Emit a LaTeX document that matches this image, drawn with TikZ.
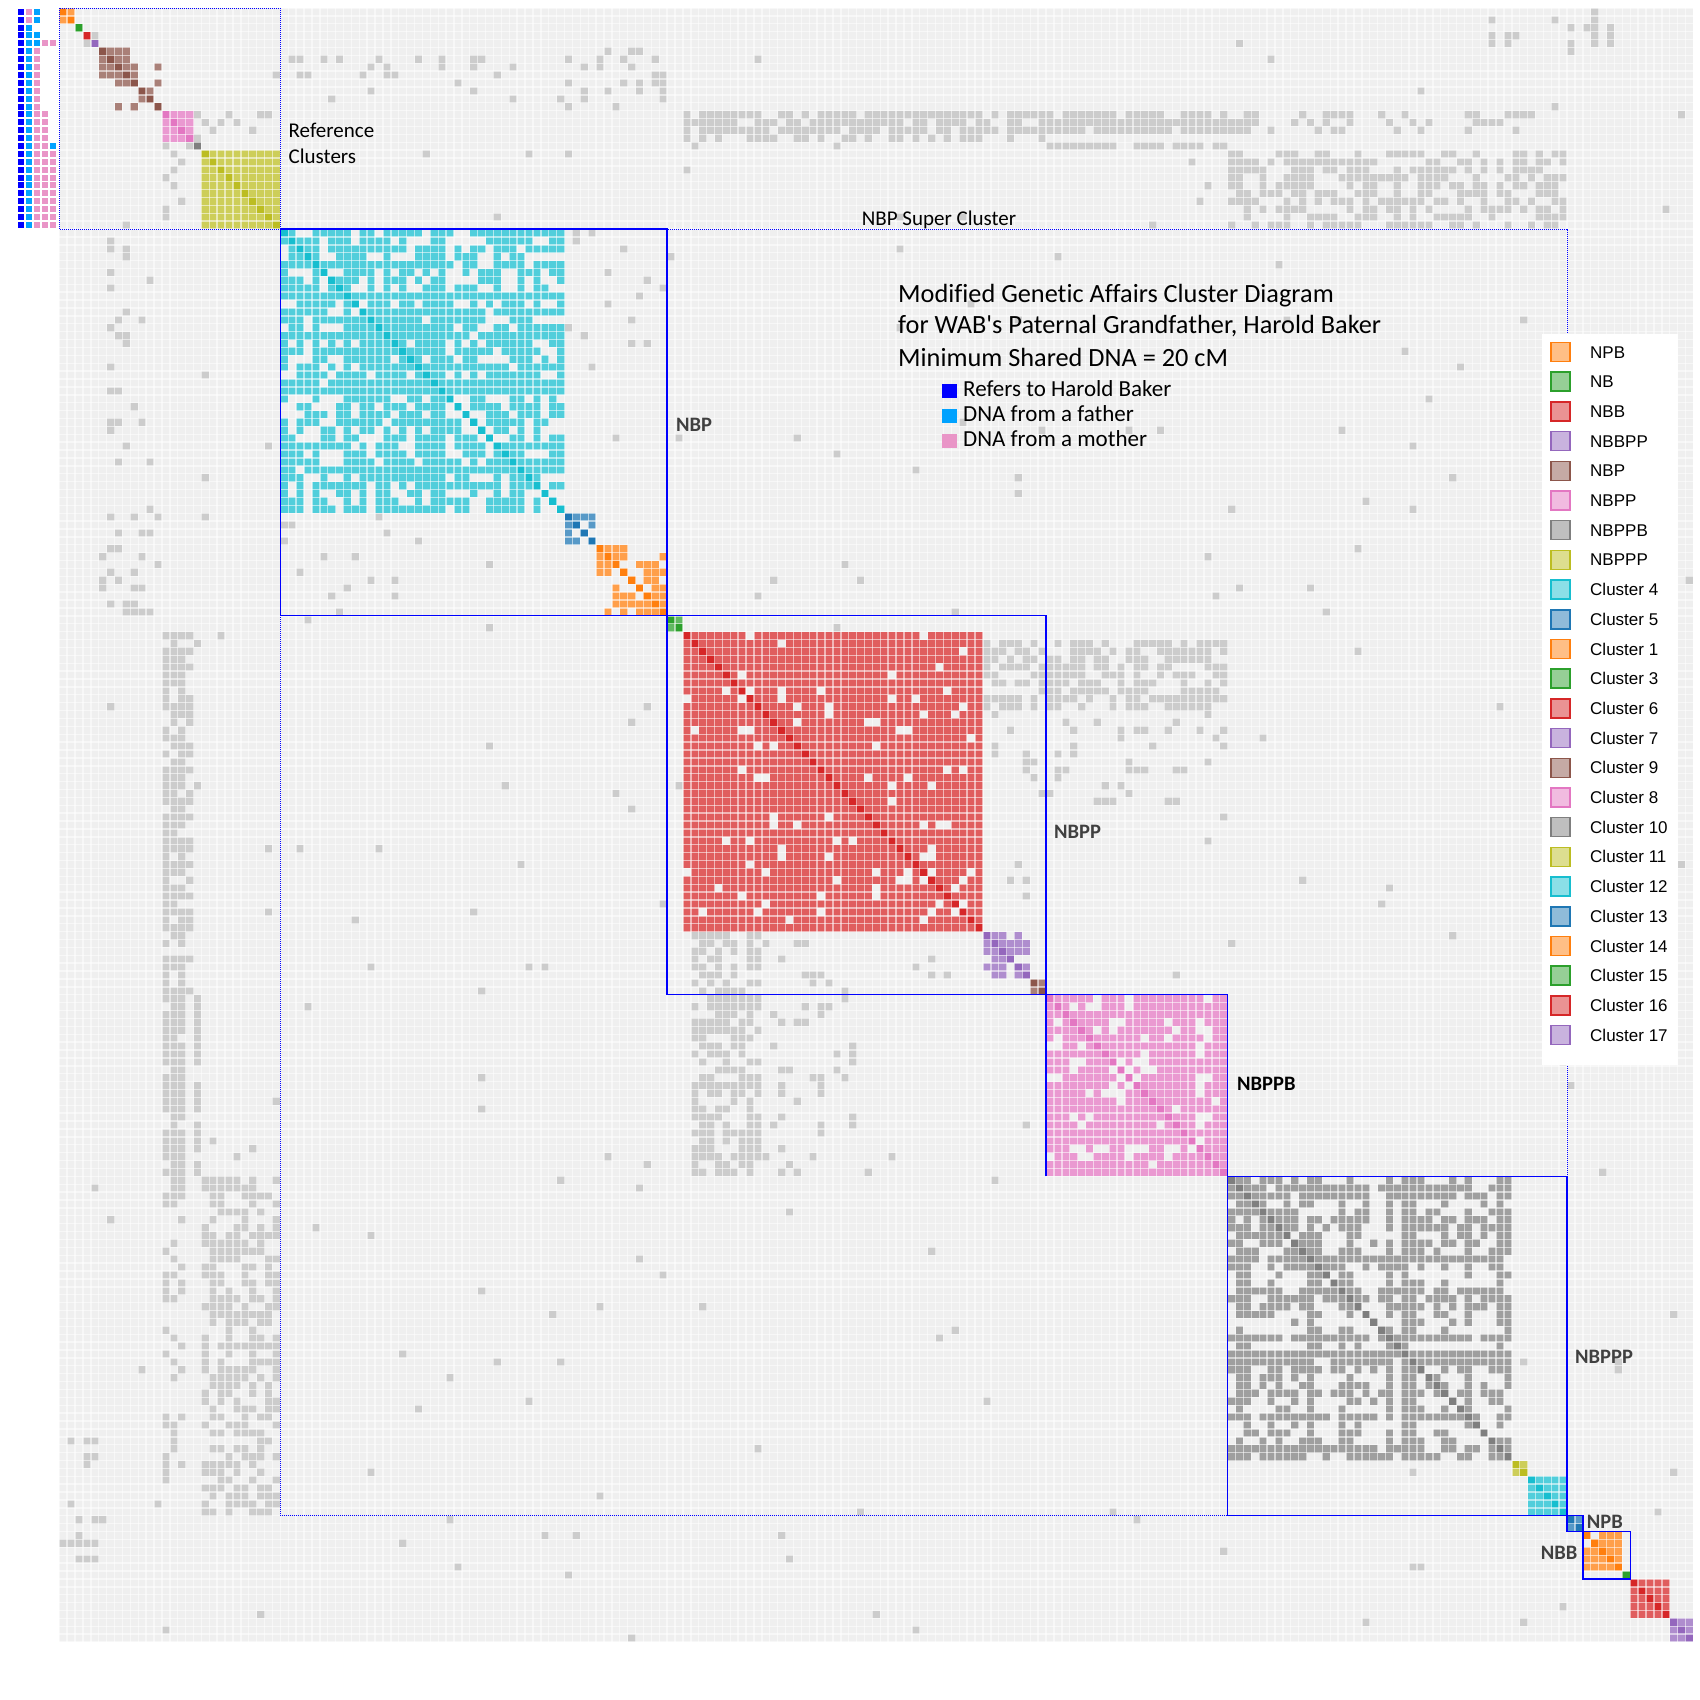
\documentclass[tikz,border=0pt]{standalone}
\usepackage{fontspec}
\setmainfont{Carlito}[Ligatures={TeXOff,NoCommon}]
\newfontfamily\legfont{Liberation Sans}
\definecolor{bgcell}{HTML}{EFEFEF}
\definecolor{offgray}{HTML}{CCCCCC}
\definecolor{cOrange}{HTML}{FF7F0E}
\definecolor{cGreen}{HTML}{2CA02C}
\definecolor{cRed}{HTML}{D62728}
\definecolor{cPurple}{HTML}{9467BD}
\definecolor{cBrown}{HTML}{8C564B}
\definecolor{cPink}{HTML}{E377C2}
\definecolor{cGray}{HTML}{7F7F7F}
\definecolor{cOlive}{HTML}{BCBD22}
\definecolor{cCyan}{HTML}{17BECF}
\definecolor{cBlue}{HTML}{1F77B4}
\definecolor{refB}{HTML}{0000FF}
\definecolor{refF}{HTML}{00A2FF}
\definecolor{refM}{HTML}{E995C7}
\definecolor{labgray}{HTML}{404040}
\tikzset{gridline/.style={white, opacity=0.55, line width=1.4pt},
offcell/.style={fill=offgray},
holecell/.style={fill=bgcell},
clbox/.style={draw=blue, line width=1.3pt},
dotbox/.style={draw=blue, line width=1pt, dash pattern=on 1pt off 1pt},
lab/.style={font=\fontsize{20.5}{24}\selectfont\bfseries, text=labgray, inner sep=0pt, anchor=base west},
note/.style={font=\fontsize{21}{25}\selectfont, inner sep=0pt, anchor=base west},
ttl/.style={font=\fontsize{26.3}{32}\selectfont, inner sep=0pt, anchor=base west},
key/.style={font=\fontsize{23}{27}\selectfont, inner sep=0pt, anchor=base west},
keysq/.style={minimum width=15.3pt, minimum height=14pt, inner sep=0pt},
legsq/.style={minimum width=19pt, minimum height=19pt, inner sep=0pt, line width=1.5pt},
legtxt/.style={font=\legfont\fontsize{17}{20}\selectfont, inner sep=0pt, anchor=base west}}

% diagonal block: first cell, last cell, colour, share of empty cells
\newcommand\clusterblock[4]{%
  \fill[#3!75!white] (#1,#1) rectangle (#2+1,#2+1);
  \foreach \i in {#1,...,#2}{
    \pgfmathsetmacro\w{rnd}
    \expandafter\xdef\csname cw\i\endcsname{\w}}
  \foreach \i in {#1,...,#2}{
    \fill[#3] (\i,\i) rectangle +(1,1);
    \foreach \j in {\i,...,#2}{
      \ifnum\j>\i
        \edef\wi{\csname cw\i\endcsname}
        \edef\wj{\csname cw\j\endcsname}
        \pgfmathtruncatemacro\hole{rnd<4*#4*\wi*\wj}
        \ifnum\hole=1
          \fill[holecell] (\i,\j) rectangle +(1,1);
          \fill[holecell] (\j,\i) rectangle +(1,1);
        \fi
      \fi}}}
% shared matches off the diagonal: rows, columns, share
\newcommand\offcells[5]{%
  \foreach \ro in {#1,...,#2}{
    \foreach \co in {#3,...,#4}{
      \pgfmathtruncatemacro\hit{rnd<#5}
      \ifnum\hit=1
        \fill[offcell] (\co,\ro) rectangle +(1,1);
        \fill[offcell] (\ro,\co) rectangle +(1,1);
      \fi}}}

\begin{document}
\begin{tikzpicture}[x=1pt,y=-1pt]
  \fill[white] (0,0) rectangle (1700,1700);
  \useasboundingbox (0,0) rectangle (1700,1700);
  \pgfmathsetseed{2024}

  \begin{scope}[shift={(59.3,8)},x=7.894pt,y=-7.894pt]
    \fill[bgcell] (0,0) rectangle (207,207);
    % gray cells
    \offcells{13}{15}{79}{150}{0.8}
    \offcells{16}{16}{79}{124}{0.5}
    \offcells{17}{17}{125}{147}{0.85}
    \offcells{18}{27}{148}{190}{0.55}
    \offcells{13}{15}{151}{186}{0.3}
    \offcells{13}{16}{17}{27}{0.25}
    \offcells{5}{12}{64}{77}{0.3}
    \offcells{5}{12}{28}{63}{0.04}
    \offcells{0}{4}{180}{198}{0.15}
    \offcells{28}{63}{6}{8}{0.2}
    \offcells{28}{40}{64}{77}{0.05}
    \offcells{64}{77}{28}{63}{0.02}
    \offcells{80}{88}{117}{147}{0.6}
    \offcells{89}{100}{117}{147}{0.12}
    \foreach \k in {1,...,130}{
      \pgfmathtruncatemacro\ro{random(0,206)}
      \pgfmathtruncatemacro\co{random(0,206)}
      \fill[offcell] (\co,\ro) rectangle +(1,1);
      \fill[offcell] (\ro,\co) rectangle +(1,1);}
    \fill[offcell] (3,4) rectangle +(1,1);
    \fill[offcell] (4,3) rectangle +(1,1);
    % reference clusters
    \clusterblock{0}{1}{cOrange}{0}
    \clusterblock{2}{2}{cGreen}{0}
    \clusterblock{3}{3}{cRed}{0}
    \clusterblock{4}{4}{cPurple}{0}
    \clusterblock{5}{9}{cBrown}{0.1}
    \clusterblock{10}{11}{cBrown}{0}
    \clusterblock{12}{12}{cBrown}{0}
    \foreach \co in {7,9}{
      \fill[cBrown!75!white] (\co,12) rectangle +(1,1);
      \fill[cBrown!75!white] (12,\co) rectangle +(1,1);}
    \clusterblock{13}{16}{cPink}{0}
    \clusterblock{17}{17}{cGray}{0}
    \clusterblock{18}{27}{cOlive}{0.04}
    % clusters along the diagonal
    \clusterblock{28}{63}{cCyan}{0.22}
    \clusterblock{64}{67}{cBlue}{0}
    \fill[holecell] (65,66) rectangle +(1,1);
    \fill[holecell] (66,65) rectangle +(1,1);
    \fill[holecell] (66,67) rectangle +(1,1);
    \fill[holecell] (67,66) rectangle +(1,1);
    \clusterblock{68}{76}{cOrange}{0.18}
    \clusterblock{77}{78}{cGreen}{0}
    \clusterblock{79}{116}{cRed}{0.08}
    \clusterblock{117}{122}{cPurple}{0.2}
    \clusterblock{123}{124}{cBrown}{0}
    \clusterblock{125}{147}{cPink}{0.22}
    \clusterblock{148}{183}{cGray}{0.45}
    \clusterblock{184}{185}{cOlive}{0}
    \clusterblock{186}{190}{cCyan}{0}
    \clusterblock{191}{192}{cBlue}{0}
    \clusterblock{193}{197}{cOrange}{0.15}
    \clusterblock{198}{198}{cGreen}{0}
    \clusterblock{199}{203}{cRed}{0}
    \clusterblock{204}{206}{cPurple}{0}
    % cell borders
    \foreach \k in {0,...,207}{
      \draw[gridline] (\k,0) -- (\k,207);
      \draw[gridline] (0,\k) -- (207,\k);}
    % cluster boxes
    \draw[dotbox] (0,0) rectangle (28,28);
    \draw[dotbox] (28,28) rectangle (191,191);
    \draw[clbox] (28,28) rectangle (77,77);
    \draw[clbox] (77,77) rectangle (125,125);
    \draw[clbox] (125,148) -- (125,125) -- (148,125) -- (148,148);
    \draw[clbox] (148,148) rectangle (191,191);
    \draw[clbox] (191,191) rectangle (193,193);
    \draw[clbox] (193,193) rectangle (199,199);
  \end{scope}

  % who the reference rows stand for
  \foreach \k/\marks in {0/{refB,refM,refF},1/{refB,refM,refF},2/{refB,refF},
      3/{refB,refF,refF},4/{refB,refF,refF,refM,refM},
      5/{refB,refF,refM},6/{refB,refF,refM},7/{refB,refF,refM},8/{refB,refF,refM},
      9/{refB,refF,refM},10/{refB,refF,refM},11/{refB,refF,refM},12/{refB,refF,refM},
      13/{refB,refF,refM,refM},14/{refB,refF,refM,refM},15/{refB,refF,refM,refM},
      16/{refB,refF,refM,refM},17/{refB,refF,refM,refM,refF},
      18/{refB,refF,refM,refM,refM},19/{refB,refF,refM,refM,refM},
      20/{refB,refF,refM,refM,refM},21/{refB,refF,refM,refM,refM},
      22/{refB,refF,refM,refM,refM},23/{refB,refF,refM,refM,refM},
      24/{refB,refF,refM,refM,refM},25/{refB,refF,refM,refM,refM},
      26/{refB,refF,refM,refM,refM},27/{refB,refF,refM,refM,refM}}{
    \foreach \m [count=\p from 0] in \marks
      \fill[\m] ({18+8*\p},{8.8+7.894*\k}) rectangle +(6,6);}

  % labels
  \node[note] (refl1) at (288.5,137) {Reference};
  \node[note] (refl2) at (288.5,163) {Clusters};
  \node[note, anchor=base] (super) at (939,225) {NBP Super Cluster};
  \node[lab] (lNBP) at (676,431.5) {NBP};
  \node[lab] (lNBPP) at (1054,838) {NBPP};
  \node[lab, text=black] (lNBPPB) at (1237,1090.5) {NBPPB};
  \node[lab] (lNBPPP) at (1575,1363.5) {NBPPP};
  \node[lab] (lNPB) at (1586.7,1528.3) {NPB};
  \node[lab] (lNBB) at (1540.7,1559.3) {NBB};

  % title
  \node[ttl] (t1) at (898,302) {Modified Genetic Affairs Cluster Diagram};
  \node[ttl] (t2) at (898,333.5) {for WAB's Paternal Grandfather, Harold Baker};
  \node[ttl] (t3) at (898,366) {Minimum Shared DNA = 20 cM};
  \node[keysq, fill=refB] (kB) at (949.6,391.3) {};
  \node[keysq, fill=refF] (kF) at (949.6,416.3) {};
  \node[keysq, fill=refM] (kM) at (949.6,441.3) {};
  \node[key] (kBt) at (963,396.7) {Refers to Harold Baker};
  \node[key] (kFt) at (963,421.7) {DNA from a father};
  \node[key] (kMt) at (963,446.7) {DNA from a mother};

  % legend
  \fill[white] (1542,334) rectangle (1678,1065);
  \foreach \lab/\col [count=\n from 0] in {NPB/cOrange,NB/cGreen,NBB/cRed,
      NBBPP/cPurple,NBP/cBrown,NBPP/cPink,NBPPB/cGray,NBPPP/cOlive,
      Cluster 4/cCyan,Cluster 5/cBlue,Cluster 1/cOrange,Cluster 3/cGreen,
      Cluster 6/cRed,Cluster 7/cPurple,Cluster 9/cBrown,Cluster 8/cPink,
      Cluster 10/cGray,Cluster 11/cOlive,Cluster 12/cCyan,Cluster 13/cBlue,
      Cluster 14/cOrange,Cluster 15/cGreen,Cluster 16/cRed,Cluster 17/cPurple}{
    \node[legsq, fill=\col!50!white, draw=\col] (sq\n) at (1560.5,{352+29.7*\n}) {};
    \node[legtxt] (lt\n) at (1590,{358+29.7*\n}) {\lab};}
\end{tikzpicture}
\end{document}
